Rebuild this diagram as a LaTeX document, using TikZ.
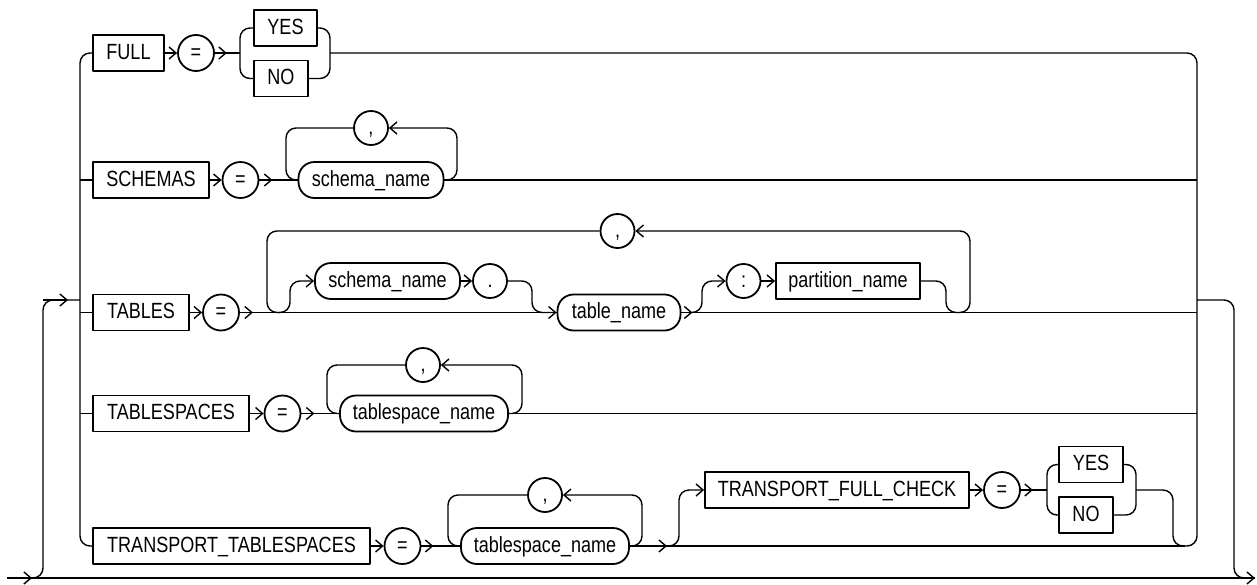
\documentclass[tikz,border=0pt]{standalone}
\usepackage{fontspec}
\setmainfont{Liberation Sans}[FakeStretch=0.82]
\usetikzlibrary{arrows.meta}
\begin{document}
\begin{tikzpicture}[x=1pt,y=-1pt,
  line width=1.4pt, line join=round,
  every node/.style={font=\fontsize{22}{26}\selectfont, text height=14pt, text depth=2pt, inner sep=0pt, line width=1.8pt},
  kw/.style={draw, rectangle, minimum height=36pt},
  term/.style={draw, rectangle, rounded corners=16pt, minimum height=36pt},
  op/.style={draw, circle, minimum size=36pt},
  sm/.style={draw, circle, minimum size=34pt},
  ah/.style={-{Straight Barb[length=7pt,width=12pt]}},
  rc/.style={rounded corners=10pt}]
\useasboundingbox (0,0) rectangle (1257,584);

% ---- nodes
\node[kw, minimum width=71pt] (full) at (128.5,53) {FULL};
\node[op] (eqa) at (196,53) {=};
\node[kw, minimum width=63pt] (yesa) at (285.5,28) {YES};
\node[kw, minimum width=54pt] (noa) at (281,78.5) {NO};

\node[kw, minimum width=116pt] (schemas) at (151,180) {SCHEMAS};
\node[op] (eqb) at (240.5,180) {=};
\node[term, minimum width=145pt] (sna) at (371,180) {schema\_name};
\node[sm] (ca) at (371,128) {,};

\node[kw, minimum width=96pt] (tables) at (141,312.5) {TABLES};
\node[op] (eqc) at (221,312.5) {=};
\node[sm] (cb) at (617.5,231) {,};
\node[term, minimum width=145pt] (snb) at (387.5,281) {schema\_name};
\node[sm] (dot) at (490,281) {.};
\node[term, minimum width=123pt] (tn) at (619,312.5) {table\_name};
\node[sm] (colon) at (743.5,281) {:};
\node[kw, minimum width=144pt] (pn) at (848,281) {partition\_name};

\node[kw, minimum width=156pt] (tsp) at (171,413.5) {TABLESPACES};
\node[op] (eqd) at (282.5,413.5) {=};
\node[term, minimum width=168pt] (tsa) at (424,413.5) {tablespace\_name};
\node[sm] (cc) at (423,365) {,};

\node[kw, minimum width=277pt] (tts) at (231.5,546) {TRANSPORT\_TABLESPACES};
\node[op] (eqe) at (402.5,546) {=};
\node[term, minimum width=168pt] (tsb) at (545,546) {tablespace\_name};
\node[sm] (cd) at (545,495) {,};
\node[kw, minimum width=264pt] (tfc) at (837,490) {TRANSPORT\_FULL\_CHECK};
\node[op] (eqf) at (1002,490) {=};
\node[kw, minimum width=64pt] (yesb) at (1091,464.5) {YES};
\node[kw, minimum width=54pt] (nob) at (1086,515) {NO};

% ---- junction coordinates
\coordinate (start) at (7,578);
\coordinate (split) at (32,578);
\coordinate (finish) at (1255,578);
\coordinate (lj) at (80,300);
\coordinate (rj) at (1197,300);
\coordinate (la) at (240,53);
\coordinate (ra) at (330,53);
\coordinate (lb) at (1047,490);
\coordinate (rb) at (1136,490);

% ---- main line and outer loop
\draw (start) -- (finish);
\draw[ah] (start) -- (split);
\draw[rc] (split) -- (43,578) -- (43,300) -- (lj);
\draw[ah] (43,300) -- (68,300);
\draw[ah, rc] (rj) -- (1234,300) -- (1234,578) -- (finish);

% ---- left branch rail
\draw[rc] (full.west) -- (80,53) -- (80,546) -- (tts.west);
\draw (schemas.west) -- (schemas.west -| lj);
\draw (tables.west) -- (tables.west -| lj);
\draw (tsp.west) -- (tsp.west -| lj);

% ---- FULL row
\draw[ah] (full.east) -- (eqa.west);
\draw (eqa.east) -- (la);
\draw[ah] (eqa.east) -- ++(12,0);
\draw[rc] (yesa.west) -- (yesa.west -| la) -- (noa.west -| la) -- (noa.west);
\draw[rc] (yesa.east) -- (yesa.east -| ra) -- (noa.east -| ra) -- (noa.east);

% ---- SCHEMAS row
\draw[ah] (schemas.east) -- (eqb.west);
\draw (eqb.east) -- (sna.west);
\draw[ah] (eqb.east) -- ++(13,0);
\draw (sna.east) -- (sna.east -| rj);
\draw[rc] (ca.west) -- (286,128) -- (286,180) -- (sna.west);
\draw[rc, ah] (sna.east) -- (457,180) -- (457,128) -- (ca.east);

% ---- TABLES row
\draw[ah] (tables.east) -- (eqc.west);
\draw (eqc.east) -- (tn.west);
\draw[ah] (eqc.east) -- ++(13,0);
\draw (tn.east) -- (tn.east -| rj);
\draw[ah] (tn.east) -- ++(11,0);
\draw[rc] (280,312.5) -- (267,312.5) -- (267,231) -- (cb.west);
\draw[rc, ah] (958,312.5) -- (970,312.5) -- (970,231) -- (cb.east);
\draw[rc, ah] (278,312.5) -- (290,312.5) -- (290,281) -- (snb.west);
\draw[ah] (snb.east) -- (dot.west);
\draw[rc, ah] (dot.east) -- (532,281) -- (532,312.5) -- (tn.west);
\draw[rc, ah] (690,312.5) -- (702,312.5) -- (702,281) -- (colon.west);
\draw[ah] (colon.east) -- (pn.west);
\draw[rc] (pn.east) -- (946,281) -- (946,312.5) -- (958,312.5);

% ---- TABLESPACES row
\draw[ah] (tsp.east) -- (eqd.west);
\draw (eqd.east) -- (tsa.west);
\draw[ah] (eqd.east) -- ++(13,0);
\draw (tsa.east) -- (tsa.east -| rj);
\draw[rc] (cc.west) -- (327,365) -- (327,413.5) -- (tsa.west);
\draw[rc, ah] (tsa.east) -- (522,413.5) -- (522,365) -- (cc.east);

% ---- TRANSPORT_TABLESPACES row
\draw[ah] (tts.east) -- (eqe.west);
\draw (eqe.east) -- (tsb.west);
\draw[ah] (eqe.east) -- ++(12,0);
\draw (tsb.east) -- (1185,546);
\draw[ah] (tsb.east) -- (667,546);
\draw[rc] (cd.west) -- (448,495) -- (448,546) -- (tsb.west);
\draw[rc, ah] (tsb.east) -- (642,546) -- (642,495) -- (cd.east);
\draw[rc, ah] (667,546) -- (679,546) -- (679,490) -- (tfc.west);
\draw[ah] (tfc.east) -- (eqf.west);
\draw (eqf.east) -- (lb);
\draw[ah] (eqf.east) -- ++(12,0);
\draw[rc] (yesb.west) -- (yesb.west -| lb) -- (nob.west -| lb) -- (nob.west);
\draw[rc] (yesb.east) -- (yesb.east -| rb) -- (nob.east -| rb) -- (nob.east);

% ---- right rail
\draw[rc] (rb) -- (1173,490) -- (1173,546) -- (1197,546) -- (1197,53) -- (ra);
\end{tikzpicture}
\end{document}
